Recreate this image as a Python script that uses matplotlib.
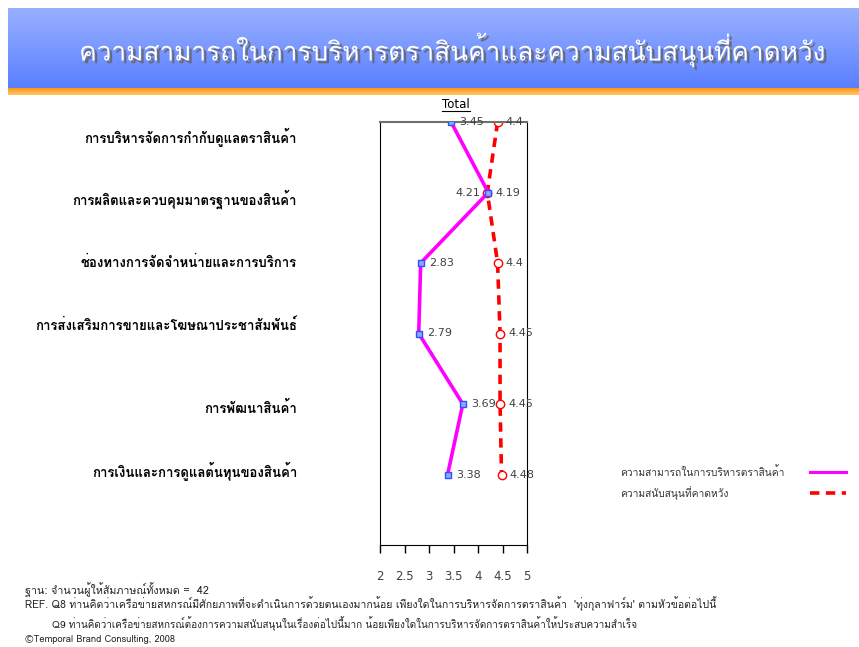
import numpy as np
import matplotlib
matplotlib.use("Agg")
import matplotlib.pyplot as plt
import matplotlib.patheffects as pe
from matplotlib.lines import Line2D

plt.rcParams['font.family'] = ['Loma', 'DejaVu Sans']

# ---------------------------------------------------
# data
# ---------------------------------------------------
title = "ความสามารถในการบริหารตราสินค้าและความสนับสนุนที่คาดหวัง"
categories = [
    "การบริหารจัดการกำกับดูแลตราสินค้า",
    "การผลิตและควบคุมมาตรฐานของสินค้า",
    "ช่องทางการจัดจำหน่ายและการบริการ",
    "การส่งเสริมการขายและโฆษณาประชาสัมพันธ์",
    "การพัฒนาสินค้า",
    "การเงินและการดูแลต้นทุนของสินค้า",
]
ability = [3.45, 4.21, 2.83, 2.79, 3.69, 3.38]
support = [4.4, 4.19, 4.4, 4.45, 4.45, 4.48]
series_names = ["ความสามารถในการบริหารตราสินค้า", "ความสนับสนุนที่คาดหวัง"]
xticks = [2, 2.5, 3, 3.5, 4, 4.5, 5]
footer = [
    "ฐาน: จำนวนผู้ให้สัมภาษณ์ทั้งหมด =  42",
    "REF. Q8 ท่านคิดว่าเครือข่ายสหกรณ์มีศักยภาพที่จะดำเนินการด้วยตนเองมากน้อย เพียงใดในการบริหารจัดการตราสินค้า  'ทุ่งกุลาฟาร์ม' ตามหัวข้อต่อไปนี้",
    "Q9 ท่านคิดว่าเครือข่ายสหกรณ์ต้องการความสนับสนุนในเรื่องต่อไปนี้มาก น้อยเพียงใดในการบริหารจัดการตราสินค้าให้ประสบความสำเร็จ",
    "©Temporal Brand Consulting, 2008",
]

W, H = 859, 647
fig = plt.figure(figsize=(W / 100, H / 100), dpi=100)
renderer = fig.canvas.get_renderer()


def fx(px):
    return px / W


def fy(py):
    return 1 - py / H


def fit(t, width_px):
    bb = t.get_window_extent(renderer)
    t.set_fontsize(t.get_fontsize() * width_px / bb.width)


# ---------------------------------------------------
# banner
# ---------------------------------------------------
ban = fig.add_axes([fx(8), fy(88), fx(851), 80 / H])
grad = np.linspace(0, 1, 100).reshape(-1, 1)
blue = np.array([[0.60, 0.69, 1.0]]) * (1 - grad) + np.array([[0.35, 0.50, 1.0]]) * grad
ban.imshow(blue.reshape(100, 1, 3), aspect='auto', extent=[0, 1, 0, 1])
ban.axis('off')

band = fig.add_axes([fx(8), fy(95), fx(851), 7 / H])
grad2 = np.linspace(0, 1, 20).reshape(-1, 1)
orange = np.array([[1.0, 0.58, 0.10]]) * (1 - grad2) + np.array([[1.0, 0.78, 0.40]]) * grad2
band.imshow(orange.reshape(20, 1, 3), aspect='auto', extent=[0, 1, 0, 1])
band.axis('off')

t = fig.text(fx(452), fy(50), title, color='white', fontsize=24,
             ha='center', va='center',
             path_effects=[pe.withSimplePatchShadow(offset=(2, -2), shadow_rgbFace='#666666', alpha=0.9)])
fit(t, 746)

# ---------------------------------------------------
# chart
# ---------------------------------------------------
ax = fig.add_axes([fx(380), fy(545), fx(147), (545 - 122) / H])
ypos = np.arange(len(categories))

ax.plot(ability, ypos, color='#ff00ff', lw=2.6, marker='s', ms=4.5,
        mfc='#88aaff', mec='#3050ff', mew=1, zorder=3)
ax.plot(support, ypos, color='#ff0000', lw=2.6, dashes=(2.6, 1.8), marker='o', ms=6,
        mfc='white', mec='#ff0000', mew=1, zorder=2)

for i, v in enumerate(ability):
    if v > support[i]:
        ax.annotate(f"{v:g}", (v, ypos[i]), xytext=(-6, 0), textcoords='offset points',
                    ha='right', va='center', fontsize=8, color='#404040',
                    family=['DejaVu Sans'])
    else:
        ax.annotate(f"{v:g}", (v, ypos[i]), xytext=(6, 0), textcoords='offset points',
                    ha='left', va='center', fontsize=8, color='#404040',
                    family=['DejaVu Sans'])
for i, v in enumerate(support):
    ax.annotate(f"{v:g}", (v, ypos[i]), xytext=(6, 0), textcoords='offset points',
                ha='left', va='center', fontsize=8, color='#404040',
                family=['DejaVu Sans'])

ax.set_xlim(2, 5)
ax.set_ylim(6, 0)
ax.set_xticks(xticks)
ax.set_xticklabels([f"{x:g}" for x in xticks], family=['DejaVu Sans'])
ax.set_yticks([])
ax.tick_params(axis='x', direction='out', length=6, width=1, pad=12,
               labelsize=8.5, labelcolor='#404040')
for s in ['left', 'right', 'bottom']:
    ax.spines[s].set_color('black')
ax.spines['top'].set_color('#707070')
ax.spines['top'].set_linewidth(1.5)

# "Total" underlined
tt = fig.text(fx(456), fy(104), "Total", ha='center', va='center', fontsize=8.5,
              family=['DejaVu Sans'], color='black')
bb = tt.get_window_extent(renderer)
fig.add_artist(Line2D([bb.x0 / W, bb.x1 / W], [fy(111), fy(111)], color='black', lw=0.8))

# category labels
label_y = [137, 199, 263, 326, 408, 471]
labs = []
for name, y in zip(categories, label_y):
    labs.append(fig.text(fx(297), fy(y), name, ha='right', va='center',
                         fontsize=10, fontweight='bold', color='black'))
bb = labs[3].get_window_extent(renderer)
fs = 10 * 262 / bb.width
for l in labs:
    l.set_fontsize(fs)

# legend
leg_y = [472, 493]
leg_styles = [dict(color='#ff00ff', lw=2.2), dict(color='#ff0000', lw=2.6, dashes=(2.6, 1.8))]
leg_texts = []
for name, y, st in zip(series_names, leg_y, leg_styles):
    leg_texts.append(fig.text(fx(620), fy(y), name, ha='left', va='center',
                              fontsize=8, color='#333333'))
    fig.add_artist(Line2D([fx(810), fx(846)], [fy(y), fy(y)], **st))
fit(leg_texts[0], 785 - 620)
leg_texts[1].set_fontsize(leg_texts[0].get_fontsize())

# footer
foot_pos = [(25, 590, 210 - 25), (25, 604, 715 - 25), (52, 624, 637 - 52), (25, 640, 175 - 25)]
for txt, (x, y, w) in zip(footer, foot_pos):
    ft = fig.text(fx(x), fy(y), txt, ha='left', va='center', fontsize=8, color='#222222')
    fit(ft, w)

fig.savefig("out.png", dpi=100)
